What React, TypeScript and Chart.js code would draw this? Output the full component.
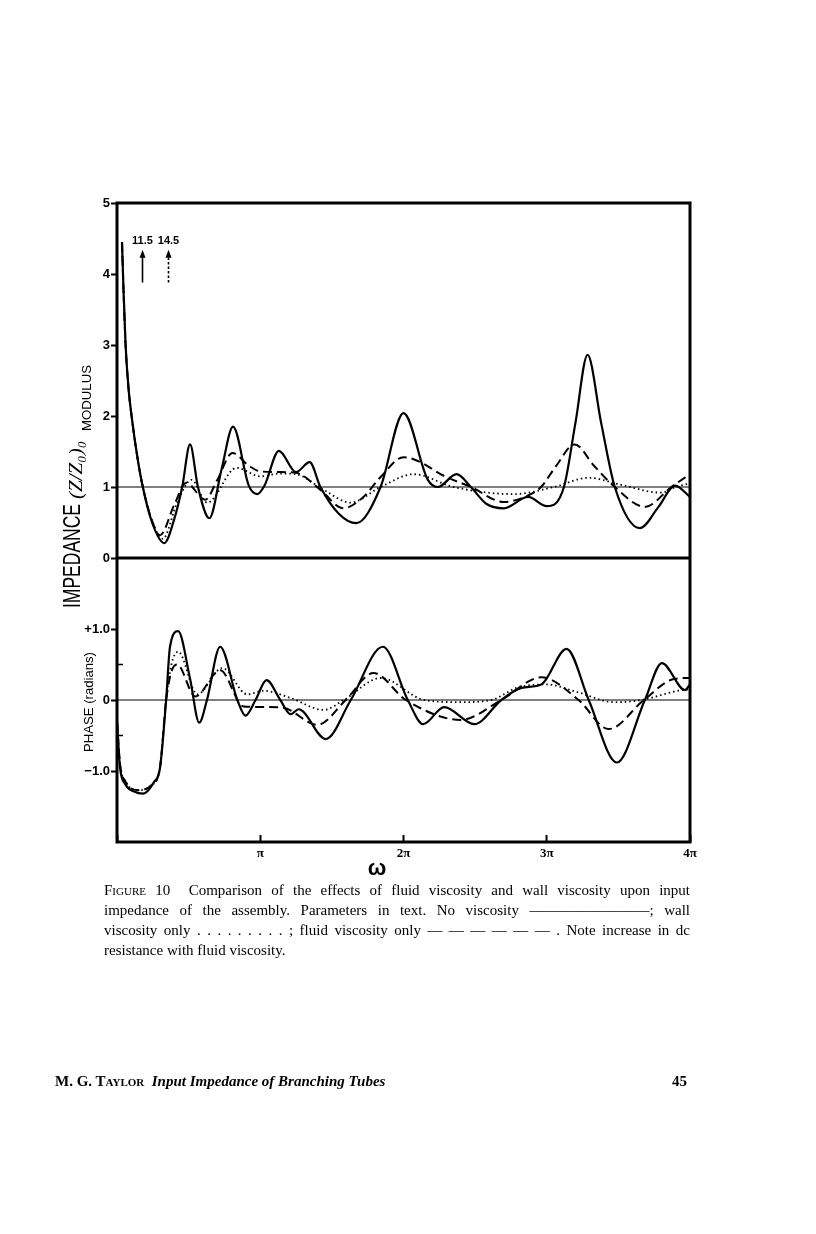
import React, { useEffect, useRef } from 'react';
import { Chart, registerables } from 'chart.js';
Chart.register(...registerables);

// ---------- data (ω in units of π) ----------
// Modulus, no viscosity (solid)
const modOmegaNone = [0.035, 0.045, 0.06, 0.08, 0.105, 0.14, 0.175, 0.245, 0.33, 0.40, 0.455, 0.51, 0.565, 0.645, 0.73, 0.81, 0.92, 0.98, 1.03, 1.13, 1.25, 1.345, 1.42, 1.55, 1.67, 1.84, 2.0, 2.17, 2.24, 2.37, 2.47, 2.58, 2.70, 2.87, 3.0, 3.12, 3.2, 3.285, 3.38, 3.475, 3.65, 3.78, 3.895, 4.0];
const modNone = [4.45, 3.8, 3.0, 2.4, 1.95, 1.45, 1.05, 0.5, 0.21, 0.55, 1.0, 1.6, 1.0, 0.56, 1.25, 1.85, 1.02, 0.9, 1.02, 1.51, 1.21, 1.35, 1.0, 0.62, 0.49, 1.0, 2.04, 1.1, 1.0, 1.18, 1.0, 0.76, 0.70, 0.86, 0.73, 1.0, 1.9, 2.86, 1.9, 1.0, 0.42, 0.72, 1.02, 0.86];

// Modulus, fluid viscosity only (dashed)
const modOmegaFluid = [0.035, 0.045, 0.06, 0.08, 0.105, 0.14, 0.175, 0.24, 0.30, 0.40, 0.483, 0.616, 0.70, 0.806, 0.92, 1.0, 1.14, 1.25, 1.42, 1.58, 1.72, 1.84, 2.0, 2.31, 2.47, 2.70, 2.87, 2.96, 3.06, 3.195, 3.33, 3.475, 3.685, 3.87, 4.0];
const modFluid = [4.45, 3.8, 3.0, 2.4, 1.95, 1.45, 1.05, 0.55, 0.32, 0.75, 1.06, 0.82, 1.1, 1.48, 1.3, 1.22, 1.21, 1.2, 0.96, 0.70, 0.86, 1.14, 1.42, 1.13, 1.0, 0.79, 0.88, 1.0, 1.28, 1.6, 1.3, 1.0, 0.72, 1.0, 1.18];

// Modulus, wall viscosity only (dotted)
const modOmegaWall = [0.035, 0.045, 0.06, 0.08, 0.105, 0.14, 0.175, 0.25, 0.32, 0.42, 0.52, 0.63, 0.835, 1.0, 1.14, 1.25, 1.45, 1.63, 1.84, 2.07, 2.35, 2.77, 3.05, 3.29, 3.52, 3.8, 3.9, 4.0];
const modWall = [4.45, 3.8, 3.0, 2.4, 1.95, 1.45, 1.05, 0.5, 0.27, 0.78, 1.1, 0.78, 1.27, 1.15, 1.19, 1.18, 0.95, 0.78, 1.0, 1.18, 1.0, 0.9, 1.0, 1.13, 1.03, 0.92, 1.0, 1.05];

// Phase, no viscosity (solid)
const phOmegaNone = [0, 0.021, 0.056, 0.12, 0.182, 0.26, 0.30, 0.343, 0.37, 0.427, 0.51, 0.574, 0.628, 0.72, 0.84, 0.897, 0.967, 1.044, 1.14, 1.212, 1.268, 1.457, 1.632, 1.856, 2.03, 2.137, 2.284, 2.494, 2.683, 2.823, 2.963, 3.138, 3.293, 3.489, 3.685, 3.804, 3.965, 4.0];
const phNone = [-0.3, -0.95, -1.18, -1.29, -1.32, -1.15, -0.96, 0, 0.75, 0.97, 0.3, -0.32, 0, 0.75, 0, -0.22, 0, 0.28, 0, -0.2, -0.13, -0.55, 0, 0.75, 0, -0.34, -0.1, -0.34, 0, 0.17, 0.22, 0.72, 0, -0.88, 0, 0.52, 0.14, 0.22];

// Phase, fluid viscosity only (dashed)
const phOmegaFluid = [0, 0.021, 0.06, 0.147, 0.24, 0.30, 0.343, 0.38, 0.42, 0.546, 0.72, 0.883, 1.05, 1.16, 1.40, 1.597, 1.79, 2.017, 2.40, 2.683, 2.963, 3.222, 3.433, 3.678, 3.895, 4.0];
const phFluid = [-0.3, -0.9, -1.15, -1.27, -1.2, -0.95, 0, 0.4, 0.5, 0.05, 0.42, -0.09, -0.1, -0.11, -0.35, 0, 0.38, 0, -0.28, 0, 0.32, 0, -0.41, 0, 0.3, 0.31];

// Phase, wall viscosity only (dotted)
const phOmegaWall = [0, 0.021, 0.06, 0.147, 0.24, 0.30, 0.343, 0.38, 0.427, 0.56, 0.735, 0.91, 1.023, 1.21, 1.443, 1.583, 1.842, 2.144, 2.4, 2.613, 2.79, 3.0, 3.2, 3.475, 3.66, 3.94, 4.0];
const phWall = [-0.3, -0.9, -1.15, -1.27, -1.2, -0.95, 0, 0.5, 0.68, 0.08, 0.45, 0.08, 0.13, 0.03, -0.14, 0, 0.31, 0, -0.03, 0, 0.17, 0.22, 0.12, -0.03, 0, 0.14, 0.15];

// reference lines
const refOmega = [0, 4];
const modRef = [1, 1];
const phRef = [0, 0];

// tick labels
const omegaTickLabels = ['', 'π', '2π', '3π', '4π'];
const phaseTickLabels: Record<string, string> = { '1': '+1.0', '0': '0', '-1': '−1.0' };
const phaseMinorTicks = [0.5, -0.5];

// dc annotations (ω/π of arrow, label)
const dcArrowOmega = [0.175, 0.357];
const dcArrowLabels = ['11.5', '14.5'];
const dcArrowRange = [3.88, 4.34, 4.46]; // base, tip, label (modulus units)

function pts(xs: number[], ys: number[]) {
  return xs.map((x, i) => ({ x, y: ys[i] }));
}

const framePlugin = {
  id: 'frame',
  afterDatasetsDraw(chart: any) {
    const { ctx, chartArea: a, scales } = chart;
    const xS = scales.x, yM = scales.yMod, yP = scales.yPh;
    ctx.save();
    ctx.strokeStyle = '#000';
    ctx.fillStyle = '#000';
    ctx.lineWidth = 3;
    ctx.strokeRect(a.left, a.top, a.right - a.left, a.bottom - a.top);
    const y0 = yM.getPixelForValue(0);
    ctx.beginPath();
    ctx.moveTo(a.left, y0);
    ctx.lineTo(a.right, y0);
    ctx.stroke();
    // minor inner ticks on phase axis
    ctx.lineWidth = 1.5;
    ctx.beginPath();
    phaseMinorTicks.forEach((v) => {
      const py = yP.getPixelForValue(v);
      ctx.moveTo(a.left, py);
      ctx.lineTo(a.left + 6, py);
    });
    ctx.stroke();
    // dc arrows
    dcArrowOmega.forEach((w, i) => {
      const x = Math.round(xS.getPixelForValue(w)) + 0.5;
      const yb = yM.getPixelForValue(dcArrowRange[0]);
      const yt = yM.getPixelForValue(dcArrowRange[1]);
      ctx.lineWidth = 1.6;
      ctx.setLineDash(i === 0 ? [] : [2.5, 2]);
      ctx.beginPath();
      ctx.moveTo(x, yb);
      ctx.lineTo(x, yt + 6);
      ctx.stroke();
      ctx.setLineDash([]);
      ctx.beginPath();
      ctx.moveTo(x, yt);
      ctx.lineTo(x - 3, yt + 8);
      ctx.lineTo(x + 3, yt + 8);
      ctx.closePath();
      ctx.fill();
      ctx.font = 'bold 11px "Liberation Sans", Arial, sans-serif';
      ctx.textAlign = 'center';
      ctx.textBaseline = 'middle';
      ctx.fillText(dcArrowLabels[i], x, yM.getPixelForValue(dcArrowRange[2]));
    });
    ctx.restore();
  },
};

export default function App() {
  const ref = useRef<HTMLCanvasElement | null>(null);

  useEffect(() => {
    if (!ref.current) return;
    const common = {
      borderColor: '#000',
      pointRadius: 0,
      fill: false,
      cubicInterpolationMode: 'monotone' as const,
      borderJoinStyle: 'round' as const,
    };
    const solid = { ...common, borderWidth: 2.2 };
    const dashed = { ...common, borderWidth: 2, borderDash: [9, 5] };
    const dotted = { ...common, borderWidth: 1.8, borderDash: [1.5, 3] };
    const chart = new Chart(ref.current, {
      type: 'line',
      data: {
        datasets: [
          { ...common, label: 'mod ref', data: pts(refOmega, modRef), yAxisID: 'yMod', borderWidth: 1.2 },
          { ...common, label: 'phase ref', data: pts(refOmega, phRef), yAxisID: 'yPh', borderWidth: 1.2 },
          { ...dotted, label: 'Modulus, wall viscosity only', data: pts(modOmegaWall, modWall), yAxisID: 'yMod' },
          { ...dashed, label: 'Modulus, fluid viscosity only', data: pts(modOmegaFluid, modFluid), yAxisID: 'yMod' },
          { ...solid, label: 'Modulus, no viscosity', data: pts(modOmegaNone, modNone), yAxisID: 'yMod' },
          { ...dotted, label: 'Phase, wall viscosity only', data: pts(phOmegaWall, phWall), yAxisID: 'yPh' },
          { ...dashed, label: 'Phase, fluid viscosity only', data: pts(phOmegaFluid, phFluid), yAxisID: 'yPh' },
          { ...solid, label: 'Phase, no viscosity', data: pts(phOmegaNone, phNone), yAxisID: 'yPh' },
        ],
      },
      options: {
        animation: false,
        responsive: false,
        events: [],
        layout: { padding: { left: 77, top: 203, right: 126, bottom: 362 } },
        plugins: { legend: { display: false }, tooltip: { enabled: false } },
        scales: {
          x: {
            type: 'linear',
            min: 0,
            max: 4,
            position: 'bottom',
            afterFit: (s: any) => { s.height = 30; },
            border: { display: false },
            grid: { drawOnChartArea: false, drawTicks: true, tickLength: -7, tickWidth: 2, tickColor: '#000' },
            ticks: {
              stepSize: 1,
              padding: 11,
              color: '#000',
              font: { family: '"Liberation Serif", serif', size: 13, weight: 'bold' },
              callback: (v: any) => omegaTickLabels[Math.round(Number(v))] ?? '',
            },
          },
          yPh: {
            type: 'linear',
            min: -2,
            max: 2,
            position: 'left',
            stack: 'panels',
            stackWeight: 4,
            afterFit: (s: any) => { s.width = 40; },
            border: { display: false },
            grid: {
              drawOnChartArea: false,
              drawTicks: true,
              tickLength: 6,
              tickWidth: 2,
              tickColor: (c: any) => (c.tick && Math.abs(c.tick.value) <= 1 && Number.isInteger(c.tick.value) ? '#000' : 'rgba(0,0,0,0)'),
            },
            ticks: {
              stepSize: 0.5,
              padding: 1,
              color: '#000',
              font: { family: '"Liberation Sans", Arial, sans-serif', size: 13, weight: 'bold' },
              callback: (v: any) => phaseTickLabels[String(v)] ?? '',
            },
          },
          yMod: {
            type: 'linear',
            min: 0,
            max: 5,
            position: 'left',
            stack: 'panels',
            stackWeight: 5,
            afterFit: (s: any) => { s.width = 40; },
            border: { display: false },
            grid: { drawOnChartArea: false, drawTicks: true, tickLength: 6, tickWidth: 2, tickColor: '#000' },
            ticks: {
              stepSize: 1,
              padding: 1,
              color: '#000',
              font: { family: '"Liberation Sans", Arial, sans-serif', size: 13, weight: 'bold' },
            },
          },
        },
      } as any,
      plugins: [framePlugin],
    });
    return () => chart.destroy();
  }, []);

  const serif = '"Liberation Serif", "Times New Roman", serif';
  const sans = '"Liberation Sans", Arial, sans-serif';
  const justify: React.CSSProperties = { textAlign: 'justify', textAlignLast: 'justify', whiteSpace: 'nowrap' };

  return (
    <div style={{ position: 'absolute', left: 0, top: 0, width: 816, height: 1234, background: '#fff', color: '#000' }}>
      <canvas ref={ref} width={816} height={1234} style={{ position: 'absolute', left: 0, top: 0, width: 816, height: 1234 }} />
      <svg width={816} height={1234} style={{ position: 'absolute', left: 0, top: 0, pointerEvents: 'none' }}>
        <text transform="translate(91,398) rotate(-90)" textAnchor="middle" fontFamily={sans} fontSize={13} textLength={66} lengthAdjust="spacingAndGlyphs">MODULUS</text>
        <text transform="translate(80,556) rotate(-90)" textAnchor="middle" fontFamily={sans} fontSize={24} textLength={104} lengthAdjust="spacingAndGlyphs">IMPEDANCE</text>
        <text transform="translate(82,470) rotate(-90)" textAnchor="middle" fontFamily={serif} fontStyle="italic" fontSize={18} textLength={58} lengthAdjust="spacingAndGlyphs">(Z/Z₀)₀</text>
        <text transform="translate(93,702) rotate(-90)" textAnchor="middle" fontFamily={sans} fontSize={13} textLength={100} lengthAdjust="spacingAndGlyphs">PHASE  (radians)</text>
        <text x={377} y={875} textAnchor="middle" fontFamily={sans} fontWeight="bold" fontSize={22}>ω</text>
      </svg>
      <div style={{ position: 'absolute', left: 104, top: 880, width: 586, fontFamily: serif, fontSize: 15, lineHeight: '20px' }}>
        <div style={justify}><span style={{ fontVariant: 'small-caps' }}>Figure</span> 10&nbsp;&nbsp;Comparison of the effects of fluid viscosity and wall viscosity upon input</div>
        <div style={justify}>impedance of the assembly. Parameters in text. No viscosity ————————; wall</div>
        <div style={justify}>viscosity only . . . . . . . . . ; fluid viscosity only — — — — — — . Note increase in dc</div>
        <div style={{ textAlign: 'left', whiteSpace: 'nowrap' }}>resistance with fluid viscosity.</div>
      </div>
      <div style={{ position: 'absolute', left: 55, top: 1073, fontFamily: serif, fontSize: 15, fontWeight: 'bold', whiteSpace: 'nowrap' }}>
        <span style={{ fontVariant: 'small-caps' }}>M. G. Taylor</span>&nbsp;&nbsp;<i>Input Impedance of Branching Tubes</i>
      </div>
      <div style={{ position: 'absolute', left: 672, top: 1073, fontFamily: serif, fontSize: 15, fontWeight: 'bold' }}>45</div>
    </div>
  );
}
